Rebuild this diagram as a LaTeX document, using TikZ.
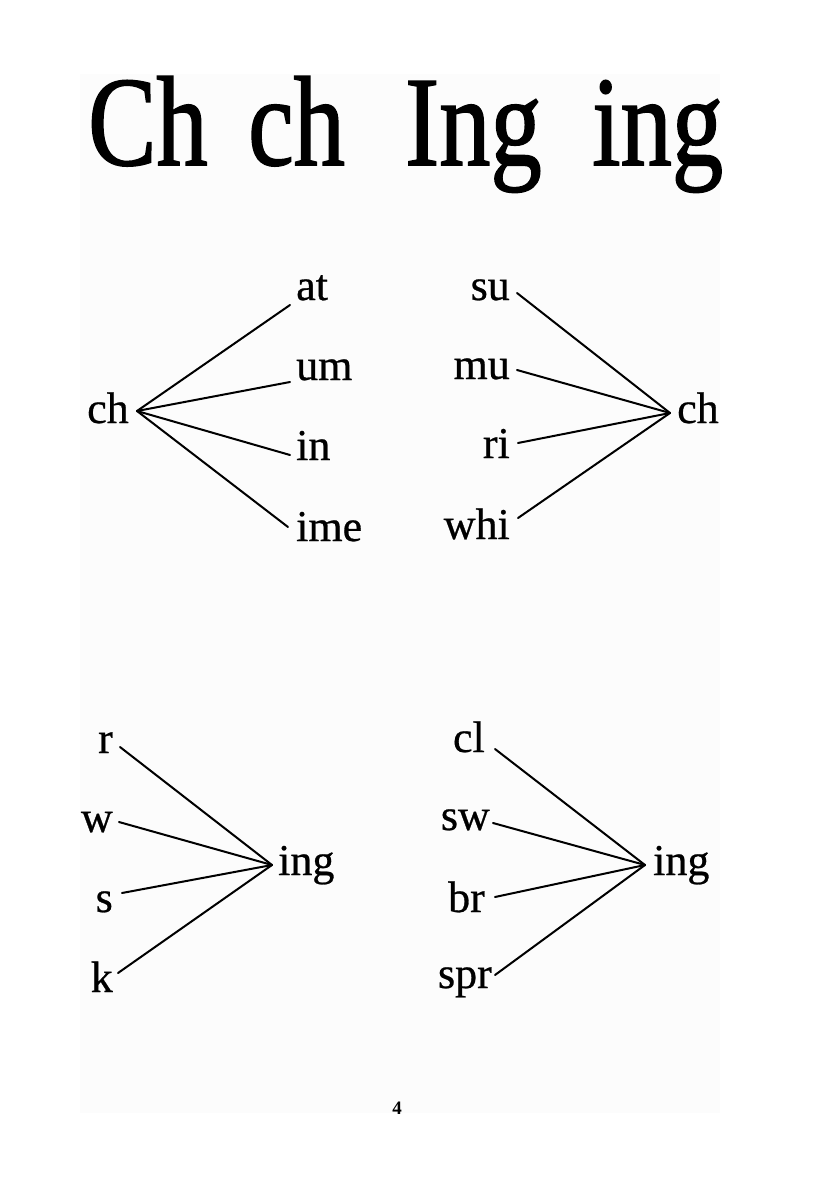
\documentclass[tikz,border=0pt]{standalone}
\usepackage{fontspec}
\setmainfont{Liberation Serif}
\newfontfamily\titlefont[FakeStretch=0.8,FakeBold=1.2]{Liberation Serif}
\newfontfamily\wordfont[FakeBold=0.6]{Liberation Serif}
\newfontfamily\numfont{Liberation Serif}
\begin{document}
\begin{tikzpicture}[x=1pt,y=-1pt,
  title/.style={inner sep=0pt,anchor=base west,font=\titlefont\fontsize{128}{130}\selectfont},
  wl/.style={inner sep=0pt,anchor=base east,font=\wordfont\fontsize{44}{46}\selectfont},
  wr/.style={inner sep=0pt,anchor=base west,font=\wordfont\fontsize{44}{46}\selectfont},
  link/.style={line width=2pt,line cap=round}]
\useasboundingbox (0,0) rectangle (840,1191);
\fill[white] (0,0) rectangle (840,1191);
\fill[black!1] (80,74) rectangle (720,1113);
% title
\node[title] (t1) at (88,165) {Ch};
\node[title] (t2) at (248,165) {ch};
\node[title] (t3) at (405,165) {Ing};
\node[title] (t4) at (592,165) {ing};
% group 1
\node[wr] (g1c) at (87,423) {ch};
\node[wr] (g1a) at (296,300) {at};
\node[wr] (g1b) at (296,380) {um};
\node[wr] (g1d) at (296,460) {in};
\node[wr] (g1e) at (296,541) {ime};
\coordinate (h1) at (137,411);
\coordinate (e1a) at (290,305);
\coordinate (e1b) at (290,382);
\coordinate (e1d) at (290,455);
\coordinate (e1e) at (288,527);
\draw[link] (h1) -- (e1a);
\draw[link] (h1) -- (e1b);
\draw[link] (h1) -- (e1d);
\draw[link] (h1) -- (e1e);
% group 2
\node[wr] (g2c) at (677,423) {ch};
\node[wl] (g2a) at (510,300) {su};
\node[wl] (g2b) at (510,379) {mu};
\node[wl] (g2d) at (510,458) {ri};
\node[wl] (g2e) at (510,539) {whi};
\coordinate (h2) at (670,413);
\coordinate (e2a) at (517,293);
\coordinate (e2b) at (517,370);
\coordinate (e2d) at (518,443);
\coordinate (e2e) at (518,518);
\draw[link] (h2) -- (e2a);
\draw[link] (h2) -- (e2b);
\draw[link] (h2) -- (e2d);
\draw[link] (h2) -- (e2e);
% group 3
\node[wr] (g3c) at (278,875) {ing};
\node[wl] (g3a) at (113,753) {r};
\node[wl] (g3b) at (113,832) {w};
\node[wl] (g3d) at (113,912) {s};
\node[wl] (g3e) at (113,992) {k};
\coordinate (h3) at (272,865);
\coordinate (e3a) at (120,747);
\coordinate (e3b) at (119,822);
\coordinate (e3d) at (122,893);
\coordinate (e3e) at (118,973);
\draw[link] (h3) -- (e3a);
\draw[link] (h3) -- (e3b);
\draw[link] (h3) -- (e3d);
\draw[link] (h3) -- (e3e);
% group 4
\node[wr] (g4c) at (653,875) {ing};
\node[wl] (g4a) at (485,752) {cl};
\node[wl] (g4b) at (490,830) {sw};
\node[wl] (g4d) at (485,912) {br};
\node[wl] (g4e) at (492,988) {spr};
\coordinate (h4) at (645,865);
\coordinate (e4a) at (495,749);
\coordinate (e4b) at (493,823);
\coordinate (e4d) at (495,897);
\coordinate (e4e) at (495,975);
\draw[link] (h4) -- (e4a);
\draw[link] (h4) -- (e4b);
\draw[link] (h4) -- (e4d);
\draw[link] (h4) -- (e4e);
% page number
\node[inner sep=0pt,font=\numfont\bfseries\fontsize{19}{20}\selectfont] (pg) at (397,1108) {4};
\end{tikzpicture}
\end{document}
